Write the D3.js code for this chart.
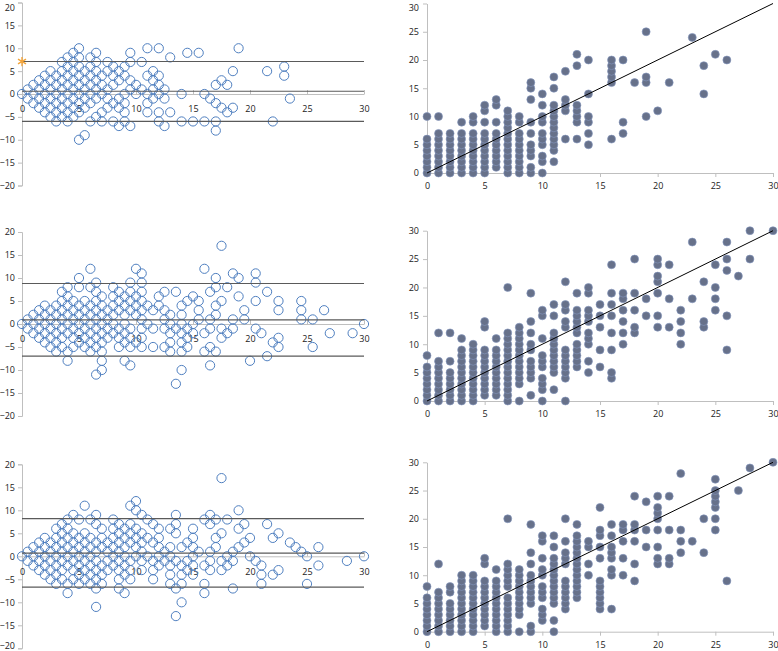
<!DOCTYPE html>
<html><head><meta charset="utf-8">
<script src="https://cdn.jsdelivr.net/npm/d3@7"></script>
<style>
body{margin:0;background:#fff}
text{font-family:"Open Sans",sans-serif;font-size:9px;fill:#222}
</style>
</head><body>
<svg id="c" width="778" height="651"></svg>
<script>
// ---------- tick labels ----------
const baXTicks = [0,5,10,15,20,25,30];
const baYTicks = [20,15,10,5,0,-5,-10,-15,-20];
const scTicks  = [0,5,10,15,20,25,30];

// ---------- data: scatter columns [x, [y values]] ----------
const topCols = [
 [0,[0,1,2,3,4,5,6,10]],[1,[0,1,2,3,4,5,6,7,10]],[2,[0,1,2,3,4,5,6,7]],
 [3,[0,1,2,3,4,5,6,7,9]],[4,[0,1,2,3,4,5,6,7,9,10]],[5,[0,1,2,3,4,5,6,7,9,11,12]],
 [6,[1,2,3,4,5,6,7,9,12,13]],[7,[0,1,2,3,4,5,6,7,8,9,10,11]],[8,[0,1,2,3,4,5,6,7,9,10]],
 [9,[0,1,3,4,5,7,9,13,15,16]],[10,[0,2,3,5,6,7,9,10,12,14]],[11,[2,4,5,6,7,8,9,10,11,12,15,17]],
 [12,[6,11,12,13,18]],[13,[6,9,10,11,12,19,21]],[14,[5,7,9,10,14,20]],
 [16,[6,16,17,18,19,20]],[17,[7,9,20]],[18,[16]],[19,[10,16,17,25]],[20,[11]],
 [21,[16]],[23,[24]],[24,[14,19]],[25,[21]],[26,[20]]
];
const midCols = [
 [0,[0,1,2,3,4,5,6,8]],[1,[0,1,2,3,4,5,6,7,12]],[2,[0,1,2,3,4,5,7,12]],
 [3,[0,1,2,3,4,5,6,7,8,9,11]],[4,[0,1,2,3,4,5,6,7,8,9,10]],[5,[1,2,3,4,5,6,7,8,9,13,14]],
 [6,[1,2,3,4,5,6,7,8,9,11]],[7,[0,1,2,3,4,5,6,7,8,9,10,11,12,20]],[8,[0,3,4,5,6,7,8,9,10,11,12,13]],
 [9,[1,4,5,6,7,9,10,12,14,19]],[10,[0,2,3,4,6,7,8,11,15,16]],[11,[2,5,6,7,8,9,10,11,12,15,17]],
 [12,[0,4,5,6,7,8,9,13,14,16,17,21]],[13,[6,7,8,9,10,12,13,14,15,16,19]],
 [14,[5,7,10,11,12,14,15,16,19,20]],[15,[6,9,13,15,17]],[16,[4,5,9,12,15,17,19,24]],
 [17,[10,12,14,16,18,19]],[18,[12,13,16,19,25]],[19,[15,18]],[20,[13,15,19,21,22,24,25]],
 [21,[13,18,24]],[22,[10,12,14,16]],[23,[18,28]],[24,[13,14,21]],[25,[16,18,20,24]],
 [26,[9,15,23,25,28]],[27,[22]],[28,[25,30]],[30,[30]]
];
const botCols = [
 [0,[0,1,2,3,4,5,6,8]],[1,[0,1,2,3,4,5,6,7,12]],[2,[0,1,2,3,4,5,7,8]],
 [3,[0,1,2,3,4,5,6,7,8,9,10]],[4,[0,1,2,3,4,5,6,7,8,9,10]],[5,[1,2,3,4,5,6,7,8,9,12,13]],
 [6,[0,1,2,3,4,5,6,7,8,9,11]],[7,[0,1,2,3,4,5,6,8,9,10,11,12,20]],[8,[0,3,4,5,6,7,8,9,10,11]],
 [9,[0,1,5,6,7,8,9,10,12,14,19]],[10,[2,3,4,6,7,8,10,11,13,16,17]],[11,[0,2,5,6,7,8,9,10,11,12,13,15,17]],
 [12,[4,5,6,7,8,9,12,13,14,16,20]],[13,[6,7,8,9,10,11,12,13,14,15,16,17,19]],
 [14,[10,12,15,16]],[15,[4,5,6,7,8,9,13,15,17,18,22]],[16,[4,10,11,13,14,15,17,19]],
 [17,[10,13,16,18,19]],[18,[9,12,16,18,19,24]],[19,[15,18,23]],[20,[12,13,15,18,20,21,22,24]],
 [21,[12,13,18,24]],[22,[14,16,18,28]],[23,[16]],[24,[14,20]],[25,[18,20,22,23,24,25,27]],
 [26,[9]],[27,[25]],[28,[29]],[30,[30]]
];

// Bland–Altman reference lines: [mean, upper limit, lower limit]
const topLimits = [0.6, 7.1, -6.0];
const midLimits = [0.9, 8.8, -7.0];
const botLimits = [0.7, 8.2, -6.7];
// highlighted marker on top Bland–Altman plot
const topMarker = [[0, 7.1]];

// ---------- drawing ----------
const svg = d3.select("#c");
const AXIS = "#bfbfbf";
const W = 778, H = 651;

function flatten(cols){ const out=[]; cols.forEach(([x,ys])=>ys.forEach(y=>out.push([x,y]))); return out; }

function styleAxis(sel){
  sel.select(".domain").attr("stroke",AXIS);
  sel.selectAll(".tick line").attr("stroke",AXIS);
  sel.selectAll("text").attr("fill","#222").style("font-size","9px").style("font-family","Open Sans");
}
// keep tick labels that sit at the very edge of the page inside it
function keepInside(sel, scale){
  sel.selectAll(".tick text").each(function(d){
    const p = scale(d);
    if (p < 8) d3.select(this).attr("dy", ((10.5 - p)/9) + "em");
    if (p > H - 5) d3.select(this).attr("dy", ((H - 2.5 - p)/9) + "em");
  });
}

function drawBA(cols, limits, box, marker){
  const g = svg.append("g");
  const x = d3.scaleLinear().domain([0,30]).range([box.x0, box.x1]);
  const y = d3.scaleLinear().domain([-20,20]).range([box.yb, box.yt]);
  const ya = g.append("g").attr("transform",`translate(${box.x0},0)`)
    .call(d3.axisLeft(y).tickValues(baYTicks).tickSize(4).tickPadding(3));
  styleAxis(ya); keepInside(ya, y);
  const xa = g.append("g").attr("transform",`translate(0,${y(0)})`)
    .call(d3.axisBottom(x).tickValues(baXTicks).tickSize(-4).tickPadding(12).tickSizeOuter(0));
  styleAxis(xa);
  const pts = flatten(cols).map(([a,b])=>[(a+b)/2, a-b]);
  g.append("g").selectAll("circle").data(pts).join("circle")
    .attr("cx",d=>x(d[0])).attr("cy",d=>y(d[1])).attr("r",4.6)
    .attr("fill","none").attr("stroke","#4f7fc0").attr("stroke-width",1);
  g.append("g").selectAll("line").data(limits).join("line")
    .attr("x1",x(0)).attr("x2",x(30)).attr("y1",d=>y(d)).attr("y2",d=>y(d))
    .attr("stroke","#5a5a5a").attr("stroke-width",1.2);
  if(marker){
    g.append("g").selectAll("path").data(marker).join("path")
      .attr("transform",d=>`translate(${x(d[0])},${y(d[1])})`)
      .attr("d",d3.symbol(d3.symbolAsterisk,60))
      .attr("fill","none").attr("stroke","#f2a43a").attr("stroke-width",1.4);
  }
}

function drawSC(cols, box){
  const g = svg.append("g");
  const x = d3.scaleLinear().domain([0,30]).range([box.x0, box.x1]);
  const y = d3.scaleLinear().domain([0,30]).range([box.yb, box.yt]);
  const ya = g.append("g").attr("transform",`translate(${box.x0},0)`)
    .call(d3.axisLeft(y).tickValues(scTicks).tickSize(4).tickPadding(4).tickSizeOuter(0));
  styleAxis(ya); keepInside(ya, y);
  const xa = g.append("g").attr("transform",`translate(0,${box.yb})`)
    .call(d3.axisBottom(x).tickValues(scTicks).tickSize(4).tickPadding(6).tickSizeOuter(0));
  styleAxis(xa);
  const pts = flatten(cols);
  g.append("g").selectAll("circle").data(pts).join("circle")
    .attr("cx",d=>x(d[0])).attr("cy",d=>y(d[1])).attr("r",4)
    .attr("fill","#67718a").attr("stroke","#8597c0").attr("stroke-width",0.6);
  g.append("line").attr("x1",x(0)).attr("y1",y(0)).attr("x2",x(30)).attr("y2",y(30))
    .attr("stroke","#000").attr("stroke-width",1);
}

drawBA(topCols, topLimits, {x0:22,x1:364,yt:2.5,yb:185.5}, topMarker);
drawSC(topCols, {x0:427,x1:773,yt:3.5,yb:173});
drawBA(midCols, midLimits, {x0:22,x1:364,yt:232,yb:416});
drawSC(midCols, {x0:427,x1:773,yt:230.7,yb:401});
drawBA(botCols, botLimits, {x0:22,x1:364,yt:464.3,yb:648.3});
drawSC(botCols, {x0:427,x1:773,yt:462.3,yb:631.7});
</script>
</body></html>
